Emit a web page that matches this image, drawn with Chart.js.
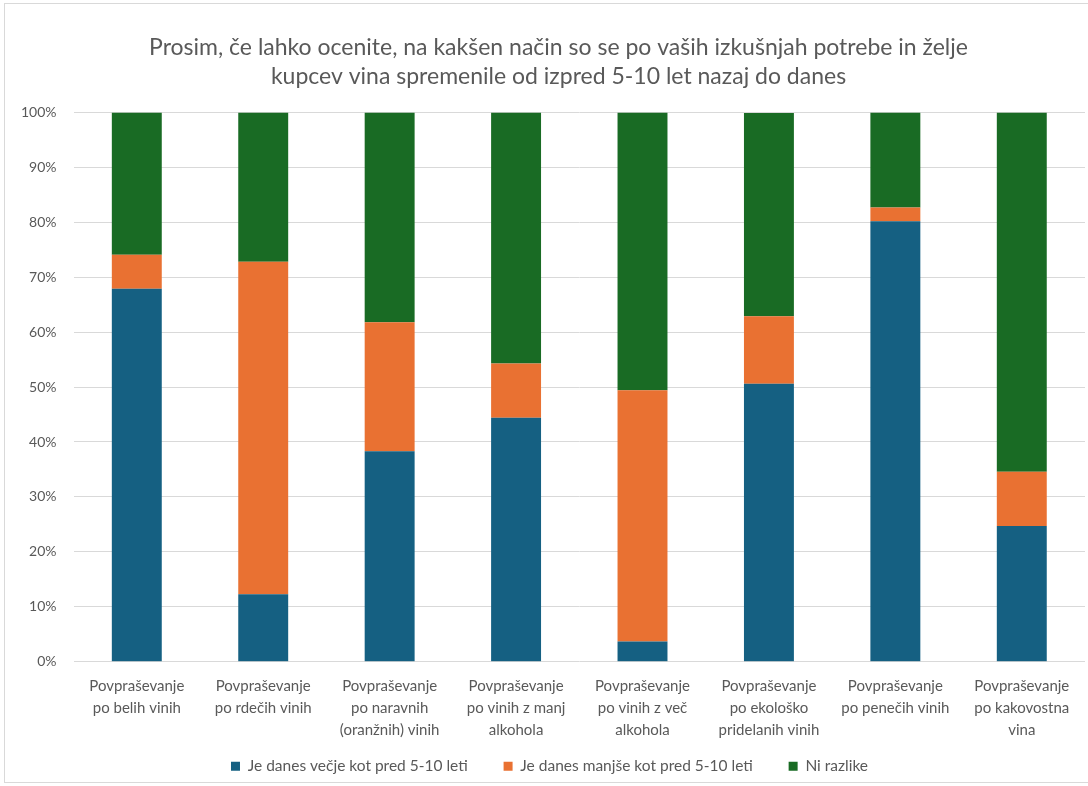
<!DOCTYPE html>
<html>
<head>
<meta charset="utf-8">
<script src="https://cdn.jsdelivr.net/npm/chart.js@4.4.1/dist/chart.umd.min.js"></script>
<style>
  html, body { margin: 0; padding: 0; background: #fff; }
  #frame {
    position: absolute; left: 4px; top: 3px; width: 1090px; height: 780px;
    border: 1px solid #d9d9d9; box-sizing: border-box;
  }
  #wrap { position: absolute; left: 0; top: 0; width: 1088px; height: 786px; }
</style>
</head>
<body>
<div id="frame"></div>
<div id="wrap"><canvas id="chart"></canvas></div>
<script>
// Stacked 100% bars: shares of answers per kind of demand
const categories = [
  ['Povpraševanje', 'po belih vinih'],
  ['Povpraševanje', 'po rdečih vinih'],
  ['Povpraševanje', 'po naravnih', '(oranžnih) vinih'],
  ['Povpraševanje', 'po vinih z manj', 'alkohola'],
  ['Povpraševanje', 'po vinih z več', 'alkohola'],
  ['Povpraševanje', 'po ekološko', 'pridelanih vinih'],
  ['Povpraševanje', 'po penečih vinih'],
  ['Povpraševanje', 'po kakovostna', 'vina']
];
const seriesNames = [
  'Je danes večje kot pred 5-10 leti',
  'Je danes manjše kot pred 5-10 leti',
  'Ni razlike'
];
const vecje = [67.9, 12.3, 38.3, 44.4, 3.7, 50.6, 80.2, 24.7];
const manjse = [6.2, 60.5, 23.5, 9.9, 45.7, 12.3, 2.5, 9.9];
const niRazlike = [25.9, 27.2, 38.2, 45.7, 50.6, 37.0, 17.3, 65.4];
const yTicks = [0, 10, 20, 30, 40, 50, 60, 70, 80, 90, 100];

const BLUE = '#156082';
const ORANGE = '#e97132';
const GREEN = '#196b24';
const TEXT = '#595959';
const GRID = '#d9d9d9';
const FONT = 'Lato, "Open Sans", sans-serif';

function bar(label, data, color) {
  return {
    label: label,
    data: data,
    backgroundColor: color,
    borderWidth: 0,
    barPercentage: 0.79,
    categoryPercentage: 0.5
  };
}

// title and legend sit a bit right of the canvas centre
const nudgeRight = {
  id: 'nudgeRight',
  afterLayout(chart) {
    const t = chart.titleBlock;
    if (t) { t.left += 14; t.right += 14; }
    const l = chart.legend;
    if (l) { l.left += 5; l.right += 5; }
  }
};

new Chart(document.getElementById('chart'), {
  type: 'bar',
  data: {
    labels: categories,
    datasets: [
      bar(seriesNames[0], vecje, BLUE),
      bar(seriesNames[1], manjse, ORANGE),
      bar(seriesNames[2], niRazlike, GREEN)
    ]
  },
  plugins: [nudgeRight],
  options: {
    responsive: true,
    maintainAspectRatio: false,
    animation: false,
    layout: { padding: { top: 33, left: 4, right: 3, bottom: 2 } },
    plugins: {
      title: {
        display: true,
        text: [
          'Prosim, če lahko ocenite, na kakšen način so se po vaših izkušnjah potrebe in želje',
          'kupcev vina spremenile od izpred 5-10 let nazaj do danes'
        ],
        color: TEXT,
        font: { family: FONT, size: 23, weight: 'normal', lineHeight: 1.27 },
        padding: { top: 0, bottom: 21 }
      },
      legend: {
        position: 'bottom',
        labels: {
          color: TEXT,
          font: { family: FONT, size: 15.5 },
          boxWidth: 9,
          boxHeight: 9,
          padding: 12,
          // wider gaps between entries without extra height
          generateLabels(chart) {
            const items = Chart.defaults.plugins.legend.labels.generateLabels(chart);
            items.forEach((it, i) => {
              if (i < items.length - 1) it.text += ' '.repeat(6);
            });
            return items;
          }
        }
      },
      tooltip: { enabled: false }
    },
    scales: {
      x: {
        stacked: true,
        grid: { display: false },
        border: { display: false },
        ticks: {
          color: TEXT,
          font: { family: FONT, size: 15, lineHeight: 1.44 },
          maxRotation: 0,
          autoSkip: false,
          padding: 6
        }
      },
      y: {
        stacked: true,
        min: 0,
        max: 100,
        afterBuildTicks: axis => { axis.ticks = yTicks.map(v => ({ value: v })); },
        grid: { color: GRID, lineWidth: 1, drawTicks: false },
        border: { display: false },
        ticks: {
          color: TEXT,
          font: { family: FONT, size: 14 },
          padding: 17,
          callback: v => v + '%'
        }
      }
    }
  }
});
</script>
</body>
</html>
